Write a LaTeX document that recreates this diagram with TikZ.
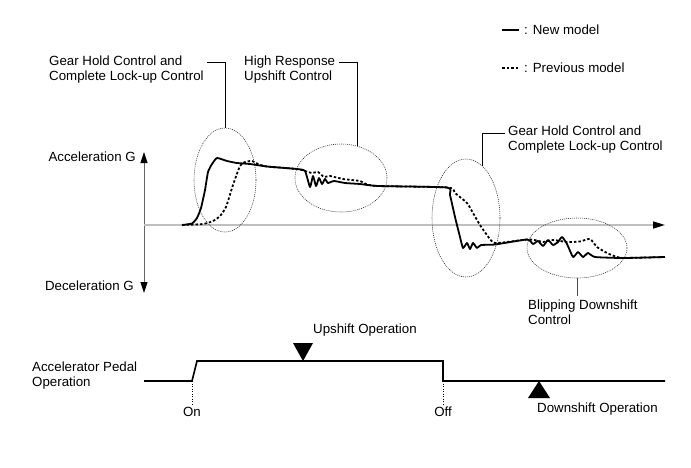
\documentclass[tikz,border=0pt]{standalone}
\usepackage{fontspec}
\setmainfont{Liberation Sans}
\usetikzlibrary{shapes.geometric,arrows.meta}

\begin{document}
\begin{tikzpicture}[x=1pt, y=-1pt, text=black,
  font=\fontsize{13.3}{15}\selectfont,
  lbl/.style={align=left, inner sep=0pt, anchor=west},
  zone/.style={ellipse, draw=black!85, dash pattern=on 1pt off 1pt,
    line width=0.55pt, inner sep=0pt},
  leader/.style={draw=black, line width=0.8pt},
  newm/.style={line width=1.8pt, line join=round},
  prevm/.style={line width=1.8pt, dash pattern=on 2.5pt off 2pt},
  pedal/.style={line width=1.6pt, line join=miter}]
\useasboundingbox (0,0) rectangle (691,467);

% legend
\draw [newm] (502,30) -- (519,30);
\node (lgnew) [lbl] at (524,30) {: New model};
\draw [prevm] (502,68) -- (519,68);
\node (lgprev) [lbl] at (524,68) {: Previous model};

% axes
\draw [black!60, line width=0.8pt,
  {Triangle[color=black,length=11pt,width=7pt]}-{Triangle[color=black,length=11pt,width=7pt]}]
  (144,152) -- (144,293);
\draw [black!25, line width=1.6pt, -{Triangle[color=black,length=12pt,width=7pt]}]
  (144,225) -- (665,225);
\node (accel) [lbl, anchor=east] at (136,157) {Acceleration G};
\node (decel) [lbl, anchor=east] at (134,286) {Deceleration G};

% previous model
\draw [prevm] plot [smooth, tension=0.35] coordinates {
  (182,225) (203,224) (213,221) (220,216) (226,207) (233,185) (240,166)
  (245,162) (252,161) (258,164) (267,166.5) (297,169) (305,171) (312,173)
  (318,172) (324,177) (330,176) (343,179) (360,181) (366,184) (378,186)
  (448,187.5) (455,193) (467,203) (473,213) (480,225) (487,235) (495,243)
  (527,239.5) (537,240.5) (543,242) (553,240) (567,242) (580,241.5)
  (590,239) (597,247) (607,253) (617,257) (625,258) (665,257)};

% new model
\draw [newm] plot [smooth, tension=0.3] coordinates {
  (182,225) (192,223.5) (197,218) (201,208) (205,190) (208,172) (212,164)
  (217,158) (227,161) (237,163) (250,164) (267,166.5) (297,169) (305,171)
  (310,187) (313,176) (316,186) (319,178) (322,184) (325,179) (328,183)
  (334,181) (345,183) (360,184) (378,186) (447,187.5) (450,195) (455,217)
  (460,237) (463,248) (467,243) (470,249) (473,243) (477,248) (481,245)
  (495,244.5) (527,239.5) (533,244) (538,241) (543,246) (548,240)
  (553,245) (558,242) (562,237) (567,244) (573,257) (578,252) (583,257)
  (588,253) (595,257) (623,258) (665,257)};

% control zones
\node (gh1) [zone, minimum width=62, minimum height=104] at (225,180) {};
\node (hr) [zone, minimum width=92, minimum height=68] at (341,178) {};
\node (gh2) [zone, minimum width=68, minimum height=118] at (466,218) {};
\node (blip) [zone, minimum width=100, minimum height=60] at (577,248) {};

% labels and leaders
\node (gh1lbl) [lbl] at (49,69.5) {Gear Hold Control and\\Complete Lock-up Control};
\coordinate (k1) at (207,62);
\draw [leader] (k1) -| (gh1.north);

\node (hrlbl) [lbl] at (244,69.5) {High Response\\Upshift Control};
\coordinate (k2) at (339,62);
\draw [leader] (k2) -| (hr.63);

\node (gh2lbl) [lbl] at (508,140) {Gear Hold Control and\\Complete Lock-up Control};
\coordinate (k3) at (505,133);
\draw [leader] (k3) -| (gh2.73);

\node (bliplbl) [lbl] at (528,312.5) {Blipping Downshift\\Control};
\coordinate (k4) at (577,296);
\draw [leader, draw=black!70] (blip.south) -- (k4);

% accelerator pedal
\node (pedlbl) [lbl] at (32,375.5) {Accelerator Pedal\\Operation};
\coordinate (pOn) at (192,381);
\coordinate (pOff) at (443,381);
\draw [pedal] (144,381) -- (pOn) -- (197,361) -- (443,361) -- (pOff) -- (665,381);
\node (on) at (192,412) {On};
\node (off) at (443,412) {Off};
\draw [dotted, line width=0.5pt] (pOn) -- (on.north);
\draw [dotted, line width=0.5pt] (pOff) -- (off.north);

\fill (303,361) -- (293,343) -- (313,343) -- cycle;
\node (up) [lbl] at (313,330) {Upshift Operation};
\fill (539,381) -- (528,398) -- (550,398) -- cycle;
\node (down) [lbl] at (537,409) {Downshift Operation};

\end{tikzpicture}
\end{document}
